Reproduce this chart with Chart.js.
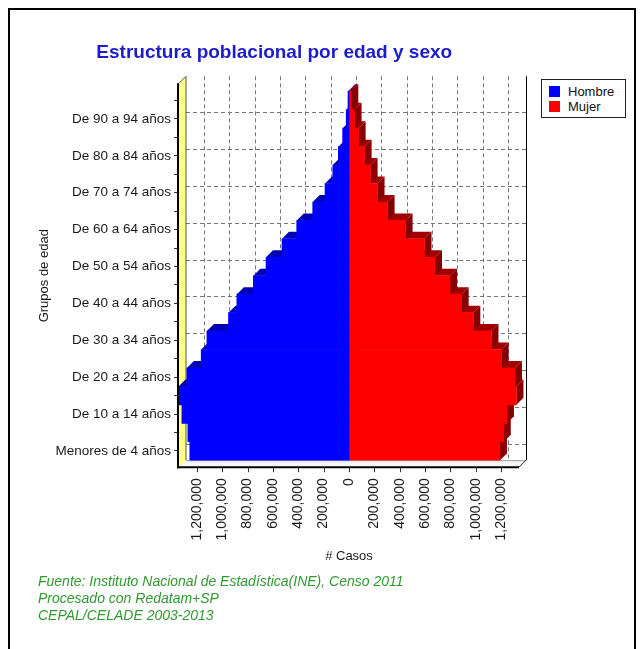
<!DOCTYPE html>
<html>
<head>
<meta charset="utf-8">
<script src="https://cdn.jsdelivr.net/npm/chart.js@4.4.0/dist/chart.umd.min.js"></script>
<style>
	html, body { margin: 0; padding: 0; background: #fff; }
	#wrap { position: relative; width: 642px; height: 649px; overflow: hidden; font-family: "Liberation Sans", Arial, sans-serif; }
	#piramide { position: absolute; left: 0; top: 0; }
	#marco { position: absolute; left: 8px; top: 8px; width: 628px; height: 700px; border: 2px solid #000; box-sizing: border-box; }
	#leyenda { position: absolute; left: 541px; top: 79px; width: 85px; height: 39px; border: 1px solid #222; box-sizing: border-box; background: #fff; font-size: 13px; color: #111; }
	#leyenda div { position: absolute; left: 7px; height: 15px; line-height: 15px; }
	#leyenda span { display: inline-block; width: 11px; height: 11px; vertical-align: -1px; margin-right: 8px; }
	#notas { position: absolute; left: 38px; top: 573px; font-size: 14px; line-height: 17px; font-style: italic; color: #2f9a2f; }
</style>
</head>
<body>
<div id="wrap">
	<canvas id="piramide" width="642" height="649"></canvas>
	<div id="marco"></div>
	<div id="leyenda">
		<div style="top:4px"><span style="background:#0000ff"></span>Hombre</div>
		<div style="top:19px"><span style="background:#ff0000"></span>Mujer</div>
	</div>
	<div id="notas">
		Fuente: Instituto Nacional de Estadística(INE), Censo 2011<br>
		Procesado con Redatam+SP<br>
		CEPAL/CELADE 2003-2013
	</div>
</div>
<script>
const grupos = [
	"Menores de 4 años", "De 5 a 9 años", "De 10 a 14 años", "De 15 a 19 años",
	"De 20 a 24 años", "De 25 a 29 años", "De 30 a 34 años", "De 35 a 39 años",
	"De 40 a 44 años", "De 45 a 49 años", "De 50 a 54 años", "De 55 a 59 años",
	"De 60 a 64 años", "De 65 a 69 años", "De 70 a 74 años", "De 75 a 79 años",
	"De 80 a 84 años", "De 85 a 89 años", "De 90 a 94 años", "De 95 a 99 años"
];
const hombres = [1255000, 1270000, 1317000, 1344000, 1278000, 1165000, 1120000, 950000, 884000, 754000,
	654000, 528000, 412000, 286000, 189000, 128000, 84000, 50000, 22000, 8000];
const mujeres = [1190000, 1220000, 1245000, 1320000, 1308000, 1203000, 1123000, 980000, 888000, 796000,
	678000, 595000, 446000, 304000, 225000, 170000, 123000, 76000, 44000, 18000];
const ticksX = [-1200000, -1000000, -800000, -600000, -400000, -200000, 0,
	200000, 400000, 600000, 800000, 1000000, 1200000];

Chart.defaults.font.family = "'Liberation Sans', Arial, sans-serif";
Chart.defaults.color = "#1a1a1a";

const prof = 7; // profundidad del efecto 3D

const fmt = v => Math.abs(v).toString().replace(/\B(?=(\d{3})+(?!\d))/g, ",");

function linea(ctx, x1, y1, x2, y2) {
	ctx.beginPath();
	ctx.moveTo(x1, y1);
	ctx.lineTo(x2, y2);
	ctx.stroke();
}

const caja3d = {
	id: "caja3d",
	beforeDatasetsDraw(chart) {
		const { ctx, chartArea: a, scales: { x, y } } = chart;
		const arriba = a.top - 15;
		ctx.save();

		// pared del fondo: grilla punteada
		ctx.strokeStyle = "#777";
		ctx.lineWidth = 1;
		ctx.setLineDash([4, 3]);
		x.ticks.forEach(t => {
			const px = Math.round(x.getPixelForValue(t.value) + prof) + 0.5;
			linea(ctx, px, arriba, px, a.bottom);
		});
		y.ticks.forEach((t, i) => {
			if (i % 2) return;
			const py = Math.round(y.getPixelForTick(i) - prof) + 0.5;
			linea(ctx, a.left + prof, py, a.right + prof, py);
		});
		ctx.setLineDash([]);

		// borde derecho del fondo
		ctx.strokeStyle = "#000";
		linea(ctx, a.right + prof + 0.5, arriba, a.right + prof + 0.5, a.bottom);

		// pared izquierda amarilla
		ctx.fillStyle = "#ffff88";
		ctx.beginPath();
		ctx.moveTo(a.left, arriba + prof);
		ctx.lineTo(a.left + prof, arriba);
		ctx.lineTo(a.left + prof, a.bottom);
		ctx.lineTo(a.left, a.bottom + prof);
		ctx.closePath();
		ctx.fill();
		ctx.strokeStyle = "#555";
		linea(ctx, a.left + prof, arriba, a.left + prof, a.bottom);
		linea(ctx, a.left, arriba + prof, a.left + prof, arriba);

		// piso
		ctx.fillStyle = "#f6f6f6";
		ctx.beginPath();
		ctx.moveTo(a.left, a.bottom + prof);
		ctx.lineTo(a.left + prof, a.bottom);
		ctx.lineTo(a.right + prof, a.bottom);
		ctx.lineTo(a.right, a.bottom + prof);
		ctx.closePath();
		ctx.fill();
		ctx.strokeStyle = "#999";
		linea(ctx, a.left + prof, a.bottom + 0.5, a.right + prof, a.bottom + 0.5);
		ctx.strokeStyle = "#222";
		linea(ctx, a.right + prof, a.bottom, a.right, a.bottom + prof);

		// caras superior y lateral de las barras
		const caras = (meta, tapa, lado) => {
			meta.data.forEach(bar => {
				const p = bar.getProps(["x", "y", "base", "height"], true);
				const sup = p.y - p.height / 2, inf = p.y + p.height / 2;
				const x0 = Math.min(p.x, p.base), x1 = Math.max(p.x, p.base);
				ctx.fillStyle = tapa;
				ctx.beginPath();
				ctx.moveTo(x0, sup);
				ctx.lineTo(x1, sup);
				ctx.lineTo(x1 + prof, sup - prof);
				ctx.lineTo(x0 + prof, sup - prof);
				ctx.closePath();
				ctx.fill();
				ctx.fillStyle = lado;
				ctx.beginPath();
				ctx.moveTo(x1, sup);
				ctx.lineTo(x1 + prof, sup - prof);
				ctx.lineTo(x1 + prof, inf - prof);
				ctx.lineTo(x1, inf);
				ctx.closePath();
				ctx.fill();
			});
		};
		caras(chart.getDatasetMeta(0), "#0000b4", "#000090");
		caras(chart.getDatasetMeta(1), "#a00000", "#860000");
		ctx.restore();
	},
	afterDatasetsDraw(chart) {
		const { ctx, chartArea: a, scales: { x } } = chart;
		ctx.save();
		ctx.strokeStyle = "#000";
		ctx.lineWidth = 2;
		linea(ctx, a.left - 1, a.top - 15 + prof, a.left - 1, a.bottom + prof + 1);
		linea(ctx, a.left - 2, a.bottom + prof, a.right, a.bottom + prof);
		ctx.lineWidth = 1;
		ctx.strokeStyle = "#333";
		x.ticks.forEach(t => {
			const px = Math.round(x.getPixelForValue(t.value)) + 0.5;
			linea(ctx, px, a.bottom + prof, px, a.bottom + prof + 5);
		});
		ctx.restore();
	}
};

new Chart(document.getElementById("piramide"), {
	type: "bar",
	data: {
		labels: grupos,
		datasets: [
			{ label: "Hombre", data: hombres.map(v => -v), backgroundColor: "#0000ff" },
			{ label: "Mujer", data: mujeres, backgroundColor: "#ff0000" }
		]
	},
	options: {
		indexAxis: "y",
		responsive: false,
		animation: false,
		layout: { padding: { left: 29.5, right: 123, top: 0, bottom: 78.8 } },
		datasets: { bar: { barPercentage: 1, categoryPercentage: 1, borderWidth: 0, clip: false } },
		plugins: {
			legend: { display: false },
			tooltip: { enabled: false },
			title: {
				display: true,
				text: "Estructura poblacional por edad y sexo",
				color: "#1c1ccc",
				font: { size: 19, weight: "bold" },
				padding: { top: 41.6, bottom: 26.9 }
			}
		},
		scales: {
			x: {
				stacked: true,
				min: -1340000,
				max: 1340000,
				afterBuildTicks: s => { s.ticks = ticksX.map(v => ({ value: v })); },
				afterFit: s => { s.height = 110; },
				grid: { display: false },
				border: { display: false },
				ticks: { maxRotation: 90, minRotation: 90, padding: 10, font: { size: 14 }, callback: v => fmt(v) },
				title: { display: true, text: "# Casos", font: { size: 13 }, padding: { top: 0, bottom: 6 } }
			},
			y: {
				stacked: true,
				reverse: true,
				afterFit: s => { s.width = 149.5; },
				grid: { display: true, drawOnChartArea: false, offset: false, tickLength: 5, color: "#333" },
				border: { display: false },
				ticks: { autoSkip: false, padding: 3, font: { size: 13.5 }, callback: (v, i) => (i % 2 ? "" : grupos[i]) },
				title: { display: true, text: "Grupos de edad", font: { size: 13 }, padding: { top: 7.5, bottom: 0 } }
			}
		}
	},
	plugins: [caja3d]
});
</script>
</body>
</html>
